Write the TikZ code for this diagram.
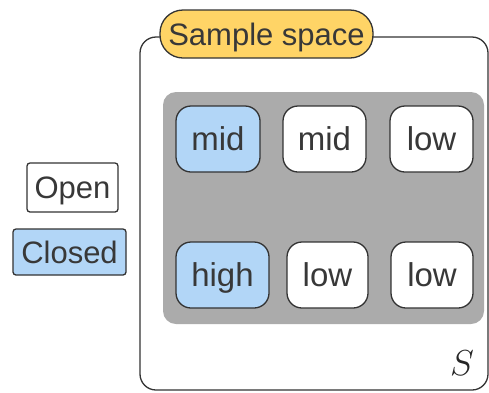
\documentclass[tikz,border=0pt]{standalone}
\usepackage{fontspec}
\setmainfont{Liberation Sans}
\begin{document}
\begin{tikzpicture}[x=1pt,y=-1pt,
  line width=1.3pt,
  ink/.style={draw=black!80, text=black!78},
  cell/.style={ink, rounded corners=15pt, minimum height=66pt, inner sep=0pt,
    font=\fontsize{33}{36}\selectfont, text height=23.6pt, text depth=0pt},
  legend/.style={ink, rounded corners=3pt, inner sep=0pt,
    font=\fontsize{31}{34}\selectfont, text height=22.2pt, text depth=0pt}]
\definecolor{selblue}{HTML}{B2D6F7}
\definecolor{tagyellow}{HTML}{FFD466}
\definecolor{panelgray}{HTML}{ABABAB}
\useasboundingbox (0,0) rectangle (489,392);
% outer frame
\draw[black!80, rounded corners=16pt] (140,37) rectangle (488,390);
% title tag
\node[ink, fill=tagyellow, rounded corners=23pt, minimum width=213pt, minimum height=48pt,
  inner sep=0pt, font=\fontsize{31}{34}\selectfont, text height=22.2pt, text depth=0pt]
  (title) at (266.5,34) {Sample space};
% grey panel
\fill[panelgray, rounded corners=13pt] (163,92) rectangle (484,324);
% outcome cells
\node[cell, fill=selblue, minimum width=84pt] (c11) at (218,139) {mid};
\node[cell, fill=white, minimum width=83pt] (c12) at (324.5,139) {mid};
\node[cell, fill=white, minimum width=83pt] (c13) at (431.5,139) {low};
\node[cell, fill=selblue, minimum width=93pt] (c21) at (222.5,275) {high};
\node[cell, fill=white, minimum width=81pt] (c22) at (327.5,275) {low};
\node[cell, fill=white, minimum width=82pt] (c23) at (432,275) {low};
% legend
\node[legend, fill=white, minimum width=91pt, minimum height=49pt] (open) at (72.5,187.5) {Open};
\node[legend, fill=selblue, minimum width=113pt, minimum height=46pt] (closed) at (69.5,252) {Closed};
% set name
\node[font=\Huge, scale=1.45, text=black!85, inner sep=0pt] (sname) at (462,363) {$S$};
\end{tikzpicture}
\end{document}
